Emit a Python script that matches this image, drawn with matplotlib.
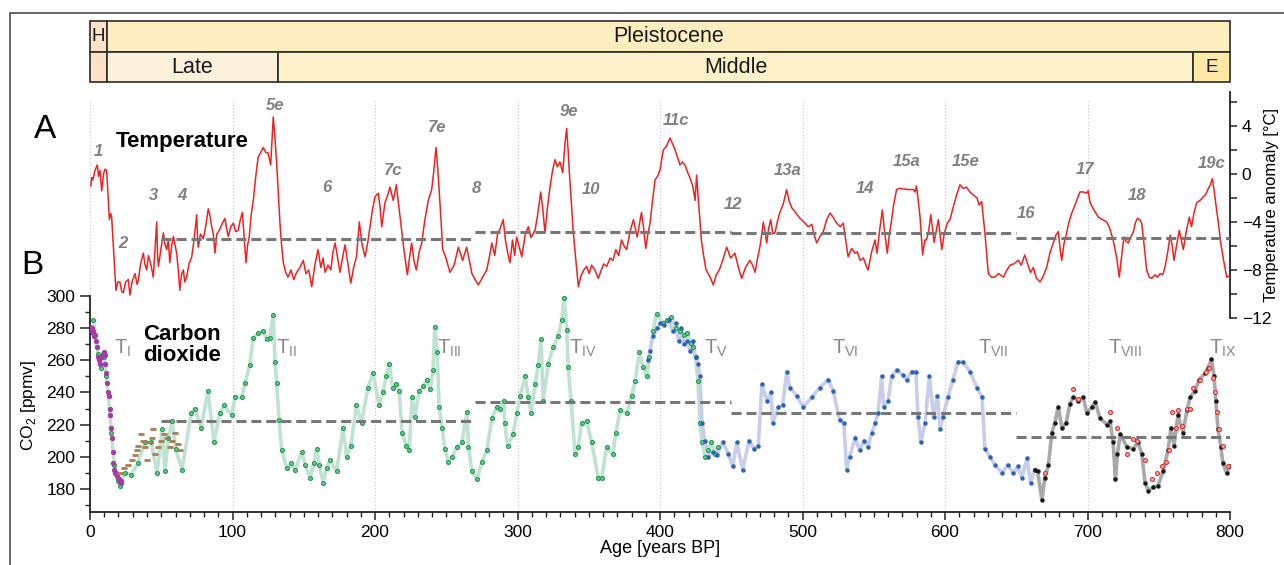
import matplotlib
matplotlib.use("Agg")
import matplotlib.pyplot as plt
from matplotlib.patches import Rectangle
from matplotlib.ticker import MultipleLocator

plt.rcParams["font.family"] = ["Liberation Sans", "DejaVu Sans"]
plt.rcParams["mathtext.fontset"] = "custom"
plt.rcParams["mathtext.rm"] = "Liberation Sans"

W, H = 1284, 565

# ---- data (age in kyr BP) ----
temp = [
    (0.5, -1.0), (1.2, -0.3), (2.0, -0.5), (3.5, 0.3), (5.1, 0.75), (6.0, -0.2), (7.0, 0.3),
    (8.2, -1.4), (9.5, 0.0), (10.5, 0.4), (11.7, 0.3), (12.5, -1.5), (13.6, -3.8), (14.5, -3.3),
    (15.2, -3.6), (16.4, -6.1), (17.3, -8.0), (18.2, -9.7), (19.5, -9.0), (21.0, -9.0),
    (22.3, -9.8), (23.4, -9.9), (25.0, -9.0), (26.9, -8.8), (28.0, -10.1), (29.5, -9.0),
    (31.6, -8.3), (33.0, -9.2), (34.0, -8.8), (35.5, -7.5), (37.4, -6.6), (38.5, -7.5),
    (39.8, -8.0), (41.0, -6.8), (42.0, -7.2), (43.3, -7.9), (44.4, -8.6), (45.5, -6.5),
    (46.8, -4.0), (47.4, -6.8), (48.0, -7.7), (49.5, -6.5), (51.5, -4.9), (52.5, -5.8),
    (53.8, -6.3), (55.0, -5.5), (56.0, -7.4), (57.3, -6.0), (58.5, -5.2), (59.8, -6.0),
    (60.8, -6.6), (62.0, -8.0), (63.0, -9.7), (64.2, -8.4), (65.5, -8.0), (66.5, -9.0),
    (67.8, -8.6), (69.5, -7.5), (71.4, -6.9), (73.0, -5.5), (74.9, -3.4), (75.5, -5.5),
    (76.0, -6.1), (77.5, -5.0), (79.5, -5.4), (81.0, -4.5), (83.0, -2.9), (84.2, -3.5),
    (85.4, -4.4), (86.5, -5.0), (87.7, -6.6), (89.0, -5.0), (90.7, -4.7), (92.5, -4.2),
    (94.7, -3.7), (95.8, -4.5), (97.0, -5.2), (98.8, -4.4), (100.6, -4.1), (102.2, -4.8),
    (104.0, -4.7), (105.5, -3.8), (107.0, -3.2), (108.3, -5.5), (109.5, -7.4), (110.5, -6.0),
    (111.8, -5.2), (113.0, -3.5), (114.6, -2.2), (116.3, -0.2), (118.0, 1.4), (119.8, 1.8),
    (121.6, 2.2), (123.3, 1.8), (125.0, 1.75), (126.8, 0.75), (127.8, 3.0), (128.6, 4.75),
    (129.5, 3.5), (131.0, 0.9), (132.2, -1.8), (133.3, -4.1), (134.5, -6.0), (135.7, -7.4),
    (137.3, -8.2), (139.0, -8.6), (141.0, -8.0), (143.0, -8.8), (145.0, -8.2), (147.3, -7.8),
    (149.7, -7.2), (151.5, -8.3), (153.5, -8.0), (155.6, -9.4), (157.8, -7.6), (160.0, -6.3),
    (162.0, -7.8), (163.5, -7.0), (165.0, -8.2), (167.0, -7.6), (169.0, -8.0), (170.5, -6.5),
    (172.0, -5.75), (173.8, -7.0), (175.4, -8.2), (177.2, -7.0), (179.0, -5.9), (181.0, -7.5),
    (183.0, -9.1), (185.0, -7.8), (187.0, -6.9), (189.0, -4.0), (190.8, -5.8), (193.0, -6.9),
    (194.8, -5.8), (196.5, -4.4), (198.2, -3.0), (200.0, -1.9), (202.3, -1.6), (203.6, -2.8),
    (204.7, -4.4), (207.0, -2.4), (208.8, -1.8), (210.5, -1.1), (212.8, -2.2), (215.0, -0.9),
    (216.5, -2.5), (218.7, -4.7), (220.5, -6.5), (222.7, -8.4), (224.2, -7.0), (225.7, -5.75),
    (227.3, -7.2), (229.0, -8.0), (231.0, -6.5), (232.8, -5.75), (235.0, -3.8), (237.4, -2.2),
    (239.8, -1.3), (241.3, 0.3), (242.8, 2.2), (244.0, 0.5), (245.0, -1.3), (246.3, -3.8),
    (247.5, -6.3), (249.8, -7.0), (252.6, -8.2), (255.5, -7.6), (258.5, -6.1), (261.5, -7.2),
    (264.3, -6.1), (266.2, -7.2), (268.0, -8.3), (270.2, -8.8), (272.5, -9.25), (275.5, -8.6),
    (278.4, -8.0), (280.3, -6.9), (282.0, -5.75), (284.0, -6.8), (286.0, -5.0), (288.0, -4.5),
    (290.0, -3.8), (291.5, -5.5), (293.0, -6.5), (294.7, -7.4), (296.5, -5.5), (298.0, -6.8),
    (299.4, -5.25), (301.0, -6.0), (303.0, -6.9), (305.5, -5.0), (307.6, -4.4), (309.5, -5.3),
    (312.3, -4.7), (314.0, -3.5), (316.3, -1.5), (317.8, -3.0), (319.3, -4.9), (321.0, -2.8),
    (322.8, -1.1), (324.5, 0.2), (326.3, 1.2), (328.0, 0.6), (329.8, 1.0), (331.7, 0.1),
    (333.3, 2.5), (334.5, 3.8), (335.5, 2.0), (336.4, 0.1), (337.8, -2.4), (339.0, -4.7),
    (340.8, -7.0), (342.7, -9.4), (344.5, -8.5), (346.5, -8.0), (348.5, -7.7), (350.3, -8.3),
    (352.0, -7.6), (354.3, -8.0), (356.7, -8.7), (358.8, -8.0), (360.5, -7.5), (362.6, -7.7),
    (365.0, -7.0), (367.0, -7.2), (369.0, -6.3), (371.0, -6.8), (373.0, -5.5), (374.8, -6.0),
    (376.6, -6.3), (379.0, -4.8), (381.3, -3.8), (382.8, -4.6), (384.0, -5.25), (385.5, -4.2),
    (387.0, -3.2), (388.5, -4.5), (390.0, -6.2), (391.5, -5.0), (393.0, -4.1), (394.8, -2.2),
    (396.5, -0.5), (398.3, -0.2), (400.0, 0.33), (401.2, 1.2), (402.3, 2.0), (404.5, 2.3),
    (407.0, 3.0), (408.5, 2.6), (409.8, 2.25), (412.0, 1.5), (414.0, 0.75), (415.8, 1.0),
    (417.5, 0.75), (419.2, 0.2), (421.0, -0.33), (423.0, -1.0), (424.6, -2.2), (425.7, -0.1),
    (426.9, -2.2), (428.0, -3.8), (429.0, -5.5), (430.6, -6.8), (432.3, -8.0), (434.8, -8.5),
    (437.4, -9.25), (439.5, -8.4), (441.6, -8.0), (444.0, -7.2), (446.8, -6.1), (449.5, -7.0),
    (452.6, -6.6), (455.0, -7.8), (457.3, -8.7), (460.0, -7.8), (463.0, -7.2), (465.0, -7.6),
    (466.7, -8.2), (468.5, -7.0), (470.5, -5.8), (472.5, -4.0), (474.9, -5.75), (476.3, -4.5),
    (477.7, -3.8), (479.2, -5.0), (480.7, -4.9), (482.3, -4.0), (484.0, -3.25), (486.5, -2.5),
    (488.9, -1.3), (490.5, -2.2), (492.4, -2.8), (495.0, -3.2), (498.2, -3.7), (501.0, -4.0),
    (504.0, -4.4), (506.5, -4.2), (508.0, -5.0), (510.0, -5.75), (512.3, -5.2), (514.6, -4.8),
    (517.0, -3.8), (519.3, -3.25), (521.5, -3.6), (524.0, -4.1), (526.5, -4.4), (528.6, -4.1),
    (530.3, -5.5), (532.0, -6.9), (534.5, -6.2), (536.8, -6.6), (538.5, -6.5), (540.5, -7.2),
    (542.7, -7.0), (544.5, -7.6), (546.0, -8.0), (548.5, -6.5), (550.9, -5.5), (552.3, -6.6),
    (554.0, -4.8), (556.0, -3.0), (557.8, -5.0), (559.5, -6.6), (561.0, -5.0), (562.6, -3.8),
    (563.7, -2.75), (566.0, -1.3), (568.0, -1.2), (570.8, -1.25), (574.0, -1.3), (577.8, -1.3),
    (579.0, -1.5), (580.0, -1.0), (581.2, -2.2), (582.5, -3.6), (584.3, -6.75), (585.8, -5.5),
    (587.0, -5.5), (588.5, -4.8), (590.0, -3.4), (591.2, -4.5), (592.3, -5.7), (593.8, -4.8),
    (595.3, -3.8), (596.5, -5.0), (597.7, -6.3), (599.5, -5.0), (601.6, -4.1), (603.5, -3.8),
    (605.8, -2.75), (608.0, -1.8), (610.5, -0.9), (612.7, -1.2), (615.0, -1.1), (617.5, -1.5),
    (619.9, -1.75), (622.5, -2.0), (624.0, -2.6), (625.7, -2.3), (628.0, -4.9), (630.4, -8.3),
    (632.5, -8.6), (635.0, -8.6), (637.5, -8.3), (641.0, -8.6), (643.5, -8.0), (645.6, -7.6),
    (648.0, -7.5), (651.5, -7.2), (653.5, -7.6), (656.0, -6.75), (658.0, -7.5), (660.0, -8.2),
    (662.0, -7.8), (664.2, -8.7), (666.7, -9.0), (669.0, -8.5), (671.4, -7.75), (673.8, -6.5),
    (676.0, -5.75), (677.8, -5.1), (679.5, -4.8), (681.0, -6.5), (681.9, -7.2), (683.5, -5.8),
    (685.4, -4.9), (687.0, -4.0), (689.0, -3.25), (691.5, -2.5), (694.7, -1.5), (697.0, -1.5),
    (699.4, -1.6), (700.5, -1.4), (701.8, -2.4), (704.5, -3.0), (707.6, -3.6), (710.5, -3.8),
    (713.5, -4.0), (715.5, -4.5), (718.0, -5.5), (720.5, -7.0), (722.3, -8.6), (724.0, -6.8),
    (725.6, -5.25), (727.0, -5.6), (728.6, -5.75), (730.5, -5.2), (732.0, -4.9), (733.8, -4.0),
    (735.0, -3.7), (736.6, -3.8), (738.0, -4.1), (739.8, -6.0), (741.5, -8.0), (743.3, -8.6),
    (745.0, -8.7), (747.5, -8.4), (749.0, -8.6), (751.0, -8.3), (752.8, -8.4), (754.4, -7.75),
    (756.3, -6.5), (758.0, -5.1), (759.5, -6.0), (760.7, -7.2), (762.5, -6.0), (764.4, -4.7),
    (765.8, -5.5), (767.2, -6.3), (769.3, -4.8), (771.4, -3.6), (773.0, -4.4), (774.8, -3.2),
    (776.6, -2.4), (779.0, -2.2), (781.3, -1.9), (783.0, -1.7), (784.8, -1.2), (786.3, -0.9),
    (787.6, -0.4), (789.0, -1.5), (790.6, -3.0), (792.0, -4.2), (793.5, -5.75), (795.5, -7.2),
    (797.7, -8.6), (799.0, -8.5), (800.0, -8.7),
]

co2_vostok = [
    (2.3, 285), (5.7, 264), (7.7, 255), (10.1, 262), (11.5, 250), (13.0, 238), (15.0, 215),
    (17.0, 195), (19.8, 185), (20.9, 182), (24.6, 190), (29.0, 189), (33.4, 196), (38.6, 209),
    (43.0, 209), (47.0, 190), (50.8, 217), (52.6, 191), (55.0, 212), (57.7, 222), (60.0, 205),
    (64.6, 192), (71.0, 227), (73.7, 230), (78.0, 218), (82.8, 241), (87.0, 209), (91.0, 227),
    (94.0, 232), (99.6, 226), (101.8, 237), (106.5, 237), (108.8, 246), (112.0, 257),
    (114.6, 274), (118.0, 277), (121.6, 278), (124.0, 273), (126.0, 274), (128.6, 288),
    (129.8, 259), (131.0, 246), (132.6, 223), (134.6, 204), (138.0, 193), (141.0, 196),
    (144.0, 192), (148.6, 203), (151.0, 195), (154.4, 187), (157.0, 196), (159.0, 205),
    (161.0, 195), (163.6, 184), (166.0, 193), (168.4, 198), (173.0, 191), (177.7, 218),
    (180.0, 200), (183.0, 207), (187.0, 232), (190.6, 221), (195.0, 243), (198.7, 252),
    (202.8, 232), (205.4, 240), (208.0, 250), (210.0, 258), (212.4, 243), (215.0, 245),
    (217.0, 241), (219.0, 215), (222.0, 207), (224.0, 204), (226.0, 237), (228.0, 225),
    (231.0, 241), (234.0, 244), (236.5, 248), (238.6, 242), (240.7, 254), (242.0, 281),
    (243.6, 265), (245.0, 231), (247.0, 218), (249.0, 205), (251.5, 197), (254.0, 200),
    (257.5, 206), (261.0, 209), (264.5, 228), (265.6, 206), (268.0, 191), (271.6, 186),
    (275.0, 197), (278.5, 204), (282.0, 224), (285.6, 231), (287.7, 230), (290.5, 235),
    (291.0, 221), (293.0, 207), (296.8, 214), (299.6, 227), (301.8, 238), (305.4, 250),
    (307.6, 237), (309.5, 227), (312.3, 245), (314.6, 257), (316.5, 273), (318.0, 235),
    (321.6, 258), (325.0, 268), (328.6, 275), (331.0, 285), (332.6, 299), (334.6, 279),
    (335.6, 256), (337.5, 235), (340.4, 202), (342.6, 206), (345.0, 221), (348.6, 222),
    (352.0, 209), (356.7, 187), (359.0, 187), (362.6, 206), (367.0, 202), (369.0, 215),
    (372.0, 229), (376.6, 227), (380.0, 238), (382.6, 247), (385.6, 265), (388.0, 256),
    (390.6, 250), (392.5, 262), (395.0, 278), (397.7, 289), (402.0, 283), (405.0, 285),
    (408.0, 287), (411.0, 280), (414.0, 278), (416.5, 276), (419.0, 277), (421.5, 271),
    (423.0, 268), (425.0, 262), (426.7, 247), (428.0, 221), (429.5, 209), (431.6, 200),
    (433.7, 204), (436.0, 209), (438.6, 202), (440.7, 206),
]

co2_domec_purple = [
    (0.3, 281), (0.8, 279), (1.2, 280), (1.8, 277), (2.4, 278), (3.0, 275), (3.6, 276),
    (4.3, 272), (5.0, 268), (5.8, 262), (6.5, 260), (7.2, 258), (8.0, 262), (8.8, 264),
    (9.5, 265), (10.2, 263), (10.8, 258), (11.5, 252), (12.0, 246), (12.6, 240), (13.2, 238),
    (13.8, 230), (14.3, 226), (14.8, 218), (15.3, 212), (15.9, 203), (16.4, 196), (17.0, 192),
    (17.5, 190), (18.2, 190), (18.8, 188), (19.5, 187), (20.2, 186), (20.8, 185), (21.5, 185),
    (22.1, 184),
]

co2_brown = [
    (21.0, 190), (24.0, 193), (27.0, 195), (29.5, 198), (31.6, 201), (33.0, 204), (34.0, 207),
    (36.0, 214), (37.2, 210), (38.6, 206), (39.8, 198), (42.0, 209), (43.2, 212), (44.4, 217),
    (45.6, 202), (48.0, 206), (50.0, 210), (52.0, 214), (53.8, 212), (56.0, 206), (57.8, 210),
    (59.6, 215), (61.5, 208), (63.0, 204),
]

co2_domec_blue = [
    (391.6, 260), (393.0, 266), (395.0, 275), (398.0, 280), (400.0, 283), (403.0, 282),
    (406.0, 285), (409.0, 278), (411.0, 283), (413.0, 272), (415.0, 280), (417.0, 270),
    (419.0, 272), (421.0, 266), (423.0, 272), (425.0, 262), (426.5, 258), (428.0, 250),
    (429.5, 221), (431.5, 210), (434.0, 200), (437.0, 203), (440.0, 201), (444.0, 209),
    (448.0, 202), (451.0, 194), (454.0, 209), (458.0, 192), (462.5, 210), (466.0, 205),
    (469.0, 207), (471.5, 245), (475.0, 235), (478.0, 240), (479.0, 221), (483.0, 231),
    (486.0, 232), (489.0, 253), (491.0, 243), (496.0, 238), (500.5, 231), (506.6, 237),
    (512.0, 243), (518.0, 248), (521.6, 241), (526.0, 223), (529.0, 221), (531.0, 192),
    (533.0, 200), (537.0, 212), (540.0, 204), (543.0, 210), (546.0, 206), (548.6, 215),
    (551.0, 221), (553.0, 227), (555.5, 250), (557.0, 231), (560.0, 235), (562.6, 250),
    (566.0, 254), (570.5, 251), (573.0, 248), (576.6, 253), (579.6, 253), (581.0, 225),
    (583.0, 209), (586.0, 221), (589.0, 250), (592.0, 225), (594.7, 238), (596.5, 217),
    (598.6, 225), (602.0, 237), (605.6, 248), (609.0, 259), (612.6, 259), (617.5, 253),
    (622.4, 243), (626.0, 237), (628.0, 205), (631.6, 200), (635.0, 195), (640.0, 190),
    (644.0, 195), (648.0, 190), (651.0, 194), (654.0, 187), (657.5, 199), (660.0, 184),
    (663.0, 192),
]

co2_domec_black = [
    (663.0, 192), (665.0, 191), (668.0, 173), (670.0, 187), (672.6, 195), (675.0, 215),
    (677.0, 221), (679.5, 231), (682.0, 218), (685.0, 221), (687.7, 233), (690.0, 237),
    (693.6, 235), (697.0, 237), (699.6, 227), (703.0, 231), (705.4, 234), (708.8, 224),
    (713.7, 220), (715.8, 222), (718.0, 209), (719.6, 186), (721.0, 202), (723.0, 214),
    (727.7, 206), (732.0, 205), (735.5, 209), (738.0, 202), (740.4, 184), (742.6, 179),
    (746.0, 181), (749.5, 182), (753.0, 191), (756.5, 204), (758.6, 218), (760.7, 207),
    (763.5, 226), (767.0, 215), (769.8, 229), (772.0, 237), (775.4, 241), (778.4, 248),
    (782.5, 252), (784.6, 255), (787.0, 261), (788.8, 250), (790.0, 235), (791.6, 217),
    (793.6, 206), (795.0, 196), (797.6, 190), (800.0, 194),
]

co2_bern_red = [
    (670.0, 190), (690.0, 242), (693.0, 236), (716.0, 228), (721.0, 218), (728.0, 202),
    (732.0, 211), (735.0, 210), (740.0, 198), (745.0, 186), (749.0, 190), (752.0, 194),
    (755.0, 197), (757.0, 204), (759.0, 228), (762.0, 218), (763.5, 229), (766.5, 219),
    (770.0, 230), (772.0, 230), (774.0, 243), (779.0, 248), (783.0, 253), (785.0, 255),
    (788.0, 249), (789.5, 240), (791.0, 228), (792.5, 217), (795.0, 207), (798.6, 194),
]

# glacial-cycle means: (start, end, value)
temp_means = [(50, 270, -5.4), (270, 450, -4.85), (450, 650, -4.9), (650, 800, -5.35)]
co2_means = [(50, 270, 222), (270, 450, 234), (450, 650, 227.4), (650, 800, 212.5)]

mis_labels = [("1", 5.6, 1.83), ("2", 23.2, -5.83), ("3", 44.9, -1.83), ("4", 64.6, -1.83),
              ("5e", 129.8, 5.67), ("6", 166.3, -1.17), ("7c", 212.6, 0.25), ("7e", 243.5, 3.83),
              ("8", 270.9, -1.25), ("9e", 336.1, 5.17), ("10", 351.6, -1.33), ("11c", 411.2, 4.42),
              ("12", 451.2, -2.58), ("13a", 489.8, 0.25), ("14", 543.9, -1.25), ("15a", 573.3, 1.0),
              ("15e", 614.7, 1.0), ("16", 657.0, -3.33), ("17", 698.2, 0.33), ("18", 734.7, -1.83),
              ("19c", 787.4, 0.83)]

term_labels = [("I", 22.5), ("II", 138), ("III", 252), ("IV", 346), ("V", 439),
               ("VI", 530), ("VII", 634), ("VIII", 726), ("IX", 795)]

# timescale boxes: (start, end, label, colour)
epoch_row = [(0, 11.7, "H", "#fde2c8"), (11.7, 800, "Pleistocene", "#fdeebf")]
stage_row = [(0, 11.7, "", "#fde2c8"), (11.7, 132, "Late", "#fef1dc"),
             (132, 774, "Middle", "#fef0c9"), (774, 800, "E", "#feeaa6")]


def xy(pairs):
    return [p[0] for p in pairs], [p[1] for p in pairs]


fig = plt.figure(figsize=(W / 100, H / 100), dpi=100)

# outer frame (left + top edges visible)
fig.add_artist(Rectangle((9.5 / W, -0.1), 1.2, (H - 13) / H + 0.1, transform=fig.transFigure,
                         facecolor="none", edgecolor="#5a5a5a", linewidth=1.3))

ax = fig.add_axes([90 / W, (H - 512) / H, 1140 / W, 420 / H])
ax.patch.set_alpha(0)
ax2 = ax.twinx()

ax.set_xlim(0, 800)
ax.set_ylim(165.7, 426.8)
ax2.set_ylim(-28.17, 6.83)

# vertical dotted guides
for g in range(0, 801, 100):
    ax.plot([g, g], [0, (512 - 100) / 420], transform=ax.get_xaxis_transform(),
            color="#c4c4c4", lw=0.8, ls=(0, (1, 2)), zorder=0)

# CO2 records
a, v = xy(co2_vostok)
ax.plot(a, v, color="#bfe3d0", lw=2.6, zorder=2, solid_joinstyle="round")
ax.plot(a, v, ls="none", marker="o", ms=2.8, mfc="#74c996", mec="#179a48", mew=0.8, zorder=4)
a, v = xy(co2_domec_blue)
ax.plot(a, v, color="#c8cdea", lw=2.6, zorder=2)
ax.plot(a, v, ls="none", marker="o", ms=2.2, mfc="#2a63b8", mec="#2a63b8", zorder=4)
a, v = xy(co2_domec_black)
ax.plot(a, v, color="#a9a9a9", lw=2.6, zorder=2)
ax.plot(a, v, ls="none", marker="o", ms=2.2, mfc="#1a1a1a", mec="#1a1a1a", zorder=4)
a, v = xy(co2_bern_red)
ax.plot(a, v, ls="none", marker="o", ms=2.8, mfc="#f7b5b5", mec="#e42b2b", mew=0.8, zorder=5)
a, v = xy(co2_domec_purple)
ax.plot(a, v, ls="none", marker="o", ms=2.8, mfc="#a63aa8", mec="#a63aa8", zorder=5)
a, v = xy(co2_brown)
ax.plot(a, v, ls="none", marker="_", ms=4, mew=2, color="#a97d52", zorder=5)

for s, e, m in co2_means:
    ax.plot([s, e], [m, m], color="#777777", lw=2.2, dashes=(3.3, 1.6), zorder=6)

# temperature record
a, v = xy(temp)
ax2.plot(a, v, color="#ee2222", lw=1.1, zorder=3)
for s, e, m in temp_means:
    ax2.plot([s, e], [m, m], color="#777777", lw=2.2, dashes=(3.3, 1.6), zorder=6)

for lab, x, y in mis_labels:
    ax2.text(x, y, lab, color="#808080", fontsize=12, fontweight="bold", fontstyle="italic",
             ha="center", va="center")
for lab, x in term_labels:
    ax.text(x, 267.5, r"T$_{\mathrm{%s}}$" % lab, color="#888888", fontsize=14.5,
            ha="center", va="center")

# spines and ticks
for sp in ("top", "right"):
    ax.spines[sp].set_visible(False)
for sp in ("top", "left", "bottom"):
    ax2.spines[sp].set_visible(False)
ax.spines["left"].set_bounds(165.7, 300)
ax2.spines["right"].set_bounds(-12, 6.83)
for sp in (ax.spines["left"], ax.spines["bottom"], ax2.spines["right"]):
    sp.set_linewidth(1.3)
    sp.set_color("#222222")

ax.xaxis.set_major_locator(MultipleLocator(100))
ax.xaxis.set_minor_locator(MultipleLocator(10))
ax.set_yticks(range(180, 301, 20))
ax.set_yticks(range(170, 300, 20), minor=True)
ax2.set_yticks(range(-12, 5, 4))
ax2.set_yticks(range(-10, 7, 4), minor=True)
ax.tick_params(axis="x", which="major", length=6, width=1.1, labelsize=12.5, color="#222222")
ax.tick_params(axis="x", which="minor", length=3.5, width=1.0, color="#222222")
ax.tick_params(axis="y", which="major", length=7, width=1.1, labelsize=12.5, color="#222222")
ax.tick_params(axis="y", which="minor", length=3.5, width=1.0, color="#222222")
ax2.tick_params(axis="y", which="both", length=5, width=1.1, labelsize=12.5, color="#222222")

ax.set_xlabel("Age [years BP]", fontsize=13, labelpad=0)
ax.set_ylabel("CO$_2$ [ppmv]", fontsize=12.5)
ax.yaxis.set_label_coords((38 - 90) / 1140, (512 - 405) / 420, transform=ax.transAxes)
ax2.set_ylabel("Temperature anomaly [°C]", fontsize=12)
ax2.yaxis.set_label_coords((1264 - 90) / 1140, (512 - 205) / 420, transform=ax.transAxes)

# panel and series titles
fig.text(45 / W, 1 - 130 / H, "A", fontsize=24, ha="center", va="center")
fig.text(32 / W, 1 - 265 / H, "B", fontsize=24, ha="center", va="center")
fig.text(182 / W, 1 - 141 / H, "Temperature", fontsize=16, fontweight="bold", ha="center",
         va="center")
fig.text(182 / W, 1 - 345 / H, "Carbon\ndioxide", fontsize=16, fontweight="bold", ha="center",
         va="center", linespacing=1.0)

# geological timescale bar
tax = fig.add_axes([90 / W, (H - 82) / H, 1140 / W, 61 / H])
tax.set_xlim(0, 800)
tax.set_ylim(0, 2)
tax.axis("off")
for row, boxes in ((1, epoch_row), (0, stage_row)):
    for s, e, lab, col in boxes:
        tax.add_patch(Rectangle((s, row), e - s, 1, facecolor=col, edgecolor="#2a2a2a",
                                lw=1.2, clip_on=False))
        if lab:
            tax.text((s + e) / 2, row + 0.48, lab, fontsize=15.5 if len(lab) > 1 else 13.5,
                     ha="center", va="center", color="#1a1a1a")

fig.savefig("out.png", dpi=100)
